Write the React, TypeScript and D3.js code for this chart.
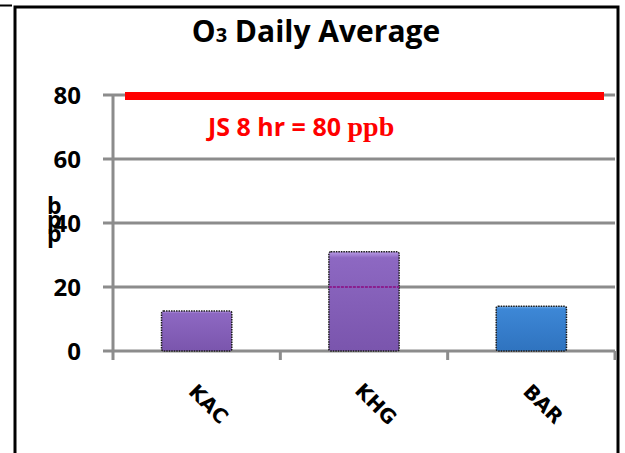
import { useEffect, useRef } from "react";
import * as d3 from "d3";

const sites = ["KAC", "KHG", "BAR"];
const averages = [12.5, 31, 14];
const barColors = ["purple", "purple", "blue"];
const yTicks = [0, 20, 40, 60, 80];
const standardValue = 80;
const standardLabel = "JS 8 hr = 80";
const standardUnit = "ppb";
const yLabel = "ppb";

export default function App() {
  const svgRef = useRef<SVGSVGElement>(null);

  useEffect(() => {
    if (!svgRef.current) return;
    const svg = d3.select(svgRef.current);
    const width = 625;
    const height = 453;
    svg.selectAll("*").remove();
    svg.attr("width", width).attr("height", height);

    const x0 = 113;
    const x1 = 615;
    const y = d3.scaleLinear().domain([0, 80]).range([351, 95]);
    const x = d3.scaleBand().domain(sites).range([x0, x1]).paddingInner(0.58).paddingOuter(0.29);

    const defs = svg.append("defs");
    const grads: Record<string, [string, string, string]> = {
      purple: ["#b99be6", "#8d68c2", "#7a55ad"],
      blue: ["#79b4ef", "#3d87d6", "#2f73bf"],
    };
    Object.entries(grads).forEach(([k, c]) => {
      const g = defs
        .append("linearGradient")
        .attr("id", "g-" + k)
        .attr("x1", 0)
        .attr("y1", 0)
        .attr("x2", 0)
        .attr("y2", 1);
      g.append("stop").attr("offset", "0").attr("stop-color", c[0]);
      g.append("stop").attr("offset", "0.06").attr("stop-color", c[1]);
      g.append("stop").attr("offset", "1").attr("stop-color", c[2]);
    });

    // frame
    const frame = svg.append("g").attr("stroke", "#000").attr("fill", "none");
    frame.append("path").attr("d", "M15,453V7H618V453").attr("stroke-width", 3);
    frame.append("line").attr("x1", 0).attr("x2", 12).attr("y1", 5.5).attr("y2", 5.5).attr("stroke-width", 2);

    // title
    const title = svg
      .append("text")
      .attr("x", 316)
      .attr("y", 42)
      .attr("text-anchor", "middle")
      .attr("font-family", "'Open Sans', sans-serif")
      .attr("font-weight", "bold")
      .attr("font-size", 30)
      .attr("fill", "#000");
    title.append("tspan").text("O");
    title.append("tspan").attr("font-size", 20).text("3");
    title.append("tspan").text(" Daily Average");

    // gridlines
    svg
      .append("g")
      .selectAll("line")
      .data(yTicks)
      .join("line")
      .attr("x1", 103)
      .attr("x2", x1)
      .attr("y1", (d) => y(d))
      .attr("y2", (d) => y(d))
      .attr("stroke", "#8c8c8c")
      .attr("stroke-width", 3);

    // y axis line
    svg
      .append("line")
      .attr("x1", x0)
      .attr("x2", x0)
      .attr("y1", y(80))
      .attr("y2", y(0) + 9)
      .attr("stroke", "#8c8c8c")
      .attr("stroke-width", 3);

    // x ticks at band boundaries
    svg
      .append("g")
      .selectAll("line")
      .data(sites.map((_, i) => x0 + x.step() * (i + 1) - 0.0))
      .join("line")
      .attr("x1", (d) => d)
      .attr("x2", (d) => d)
      .attr("y1", y(0))
      .attr("y2", y(0) + 9)
      .attr("stroke", "#8c8c8c")
      .attr("stroke-width", 3);

    // y tick labels
    svg
      .append("g")
      .selectAll("text")
      .data(yTicks)
      .join("text")
      .attr("x", 81)
      .attr("y", (d) => y(d) + 9)
      .attr("text-anchor", "end")
      .attr("font-family", "'Open Sans', sans-serif")
      .attr("font-weight", "bold")
      .attr("font-size", 24)
      .attr("fill", "#000")
      .text((d) => d);

    // y label, letters stacked upright
    svg
      .append("g")
      .selectAll("text")
      .data(yLabel.split("").reverse())
      .join("text")
      .attr("x", 47)
      .attr("y", (_, i) => 214 + i * 14)
      .attr("font-family", "'Open Sans', sans-serif")
      .attr("font-weight", "bold")
      .attr("font-size", 23)
      .attr("fill", "#000")
      .text((d) => d);

    // bars
    svg
      .append("g")
      .selectAll("rect")
      .data(sites)
      .join("rect")
      .attr("x", (d) => x(d) as number)
      .attr("y", (_, i) => y(averages[i]))
      .attr("width", x.bandwidth())
      .attr("height", (_, i) => y(0) - y(averages[i]))
      .attr("rx", 2)
      .attr("fill", (_, i) => `url(#g-${barColors[i]})`)
      .attr("stroke", "#1a1a1a")
      .attr("stroke-width", 1.5)
      .attr("stroke-dasharray", "1.5 1");

    // gridline showing through the tallest bar
    const tall = sites[d3.maxIndex(averages)];
    svg
      .append("line")
      .attr("x1", x(tall) as number)
      .attr("x2", (x(tall) as number) + x.bandwidth())
      .attr("y1", y(20))
      .attr("y2", y(20))
      .attr("stroke", "#8a1f8f")
      .attr("stroke-width", 2)
      .attr("stroke-dasharray", "3 1");

    // x labels
    svg
      .append("g")
      .selectAll("text")
      .data(sites)
      .join("text")
      .attr(
        "transform",
        (d) => `translate(${(x(d) as number) + x.bandwidth() / 2 + 12},${404}) rotate(45)`
      )
      .attr("text-anchor", "middle")
      .attr("dy", "0.35em")
      .attr("font-family", "'DejaVu Sans', sans-serif")
      .attr("font-weight", "bold")
      .attr("font-size", 20)
      .attr("fill", "#000")
      .text((d) => d);

    // standard line
    svg
      .append("line")
      .attr("x1", 125)
      .attr("x2", 604)
      .attr("y1", y(standardValue) + 1)
      .attr("y2", y(standardValue) + 1)
      .attr("stroke", "#ff0000")
      .attr("stroke-width", 8);

    const lab = svg
      .append("text")
      .attr("x", 208)
      .attr("y", 136)
      .attr("font-weight", "bold")
      .attr("fill", "#ff0000");
    lab
      .append("tspan")
      .attr("font-family", "'Open Sans', sans-serif")
      .attr("font-size", 25)
      .text(standardLabel + " ");
    lab
      .append("tspan")
      .attr("font-family", "'Liberation Serif', serif")
      .attr("font-size", 28)
      .text(standardUnit);
  }, []);

  return (
    <div style={{ position: "absolute", left: 0, top: 0, background: "#fff" }}>
      <svg ref={svgRef} style={{ display: "block" }}></svg>
    </div>
  );
}
